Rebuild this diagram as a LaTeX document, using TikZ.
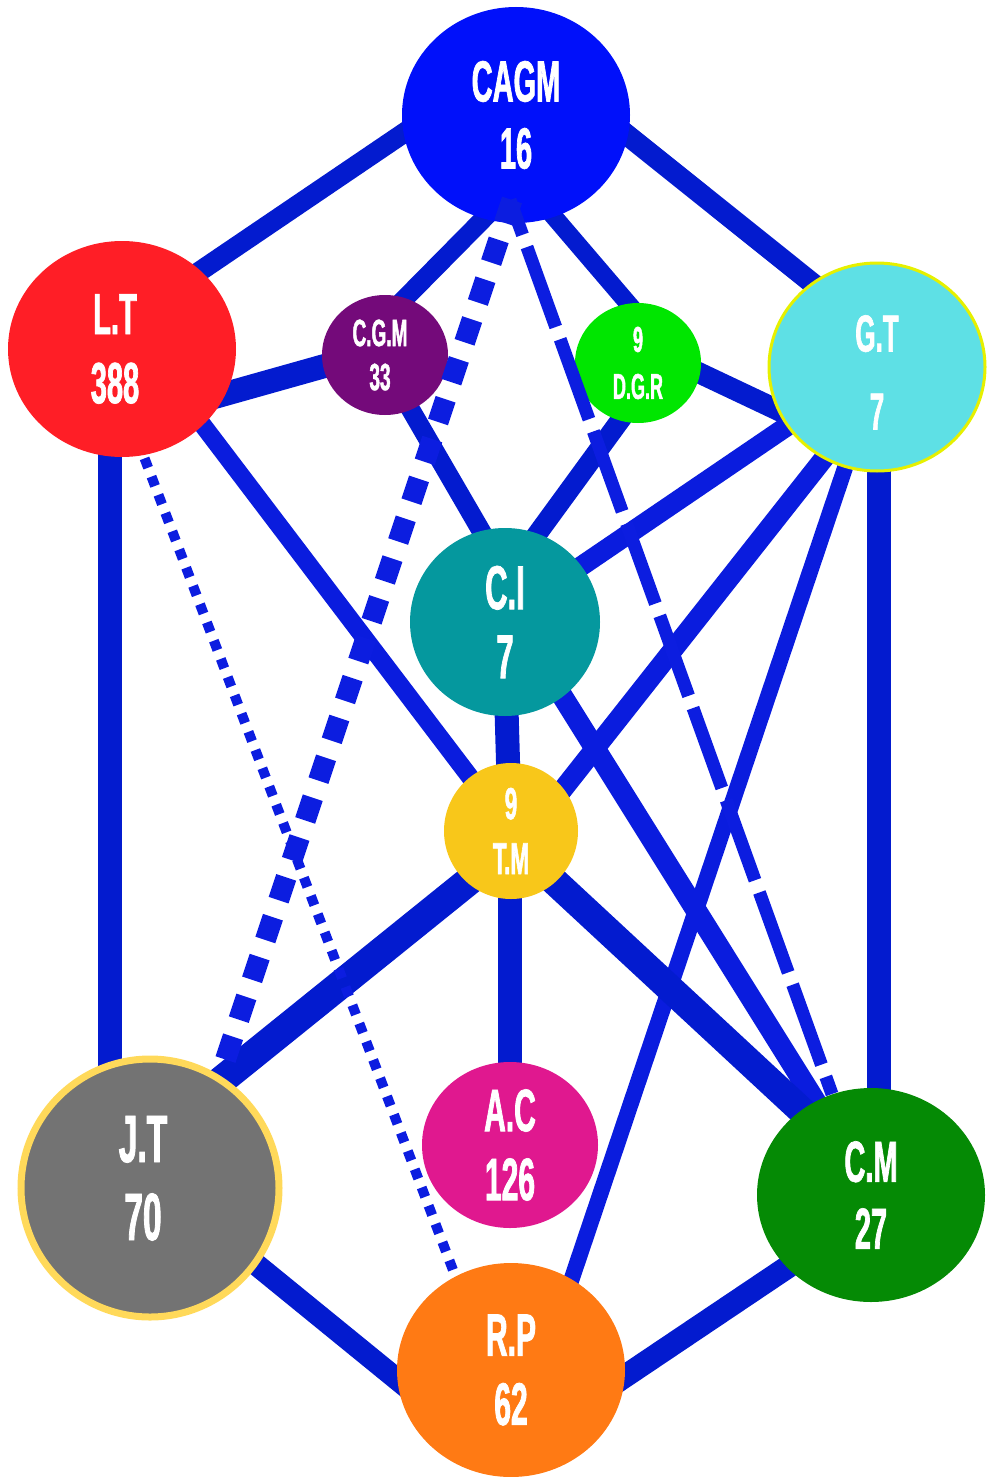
\documentclass[tikz,border=0pt]{standalone}
\usepackage{fontspec}
\newfontfamily\cond[FakeStretch=0.5,FakeBold=1.2]{Liberation Sans}
\usetikzlibrary{shapes.geometric,backgrounds}
\definecolor{edge}{HTML}{031BCF}
\definecolor{edgeb}{HTML}{0A1CDE}
\definecolor{dashc}{HTML}{0C1DE0}
\definecolor{cagm}{HTML}{0010FA}
\definecolor{lt}{HTML}{FF1E26}
\definecolor{cgm}{HTML}{740A7A}
\definecolor{dgr}{HTML}{00E600}
\definecolor{gt}{HTML}{5EE0E5}
\definecolor{gtb}{HTML}{E6F000}
\definecolor{ci}{HTML}{05989E}
\definecolor{tm}{HTML}{F8C71A}
\definecolor{ac}{HTML}{E0188F}
\definecolor{jt}{HTML}{737373}
\definecolor{jtb}{HTML}{FFD95A}
\definecolor{rp}{HTML}{FF7A14}
\definecolor{cm}{HTML}{058A05}
\newcommand\shl[2]{\hbox{#2\kern#1pt}}
\tikzset{
  bub/.style={ellipse, inner sep=0pt, align=center, text=white},
  fs/.style 2 args={font=\cond\bfseries\fontsize{#1}{#2}\selectfont},
  link/.style={draw=edge, line width=#1},
  blink/.style={draw=edgeb, line width=#1},
  thickdash/.style={draw=dashc, line width=21, dash pattern=on 24 off 18},
  longdash/.style={draw=dashc, line width=13, dash pattern=on 85 off 13, dash phase=48},
  smalldot/.style={draw=dashc, line width=10, dash pattern=on 10 off 9.5},
}
\begin{document}
\begin{tikzpicture}[x=1pt,y=-1pt]
\useasboundingbox (0,0) rectangle (987,1477);
\node[bub, fill=cagm, minimum width=228, minimum height=216, fs={58}{67}] (CAGM) at (516,115) {CAGM\\16};
\node[bub, fill=lt, minimum width=228, minimum height=216, fs={58}{69}] (LT) at (122,349) {\shl{14}{L.T}\\\shl{14}{388}};
\node[bub, fill=cgm, minimum width=126, minimum height=120, fs={38}{44}] (CGM) at (385,355) {\shl{10}{C.G.M}\\\shl{10}{33}};
\node[bub, fill=dgr, minimum width=126, minimum height=120, fs={36}{47}] (DGR) at (638,363) {9\\D.G.R};
\node[bub, fill=gt, draw=gtb, line width=3, minimum width=216, minimum height=208, fs={52}{78}] (GT) at (877,367) {\rule{0pt}{47pt}G.T\\7};
\node[bub, fill=ci, minimum width=190, minimum height=188, fs={62}{69}] (CI) at (505,622) {C.I\\7};
\node[bub, fill=tm, minimum width=134, minimum height=136, fs={45}{55}] (TM) at (511,831) {9\\T.M};
\node[bub, fill=ac, minimum width=176, minimum height=166, fs={60}{69}] (AC) at (510,1145) {A.C\\126};
\node[bub, fill=jt, draw=jtb, line width=7, minimum width=258, minimum height=258, fs={67}{78}] (JT) at (150,1188) {\shl{14}{J.T}\\\shl{14}{70}\rule[-20pt]{0pt}{20pt}};
\node[bub, fill=rp, minimum width=228, minimum height=214, fs={60}{69}] (RP) at (511,1370) {R.P\\62};
\node[bub, fill=cm, minimum width=228, minimum height=214, fs={58}{67}] (CM) at (871,1195) {C.M\\27};
\begin{scope}[on background layer]
  \draw[link=20] ([shift={(0,-58)}]CAGM.center) -- ([shift={(0,-25)}]LT.center);
  \draw[link=21] ([shift={(0,-69)}]CAGM.center) -- ([shift={(0,-32)}]GT.center);
  \draw[link=19] ([shift={(70,0)}]CAGM.center) -- ([shift={(-36,0)}]CGM.center);
  \draw[link=18] ([shift={(-49,0)}]CAGM.center) -- ([shift={(41,0)}]DGR.center);
  \draw[link=24] ([shift={(0,74)}]LT.center) -- ([shift={(0,-6)}]CGM.center);
  \draw[link=21] ([shift={(0,-19)}]DGR.center) -- ([shift={(0,90)}]GT.center);
  \draw[link=19] ([shift={(-6,0)}]CGM.center) -- ([shift={(29,0)}]CI.center);
  \draw[link=20] ([shift={(24,0)}]DGR.center) -- ([shift={(-32,0)}]CI.center);
  \draw[blink=20] ([shift={(0,-2)}]GT.center) -- ([shift={(0,-4)}]CI.center);
  \draw[blink=18] ([shift={(23,0)}]LT.center) -- (TM.center);
  \draw[link=24] ([shift={(-12,0)}]LT.center) -- ([shift={(-40,0)}]JT.center);
  \draw[link=24] ([shift={(2,0)}]GT.center) -- ([shift={(8,0)}]CM.center);
  \draw[link=24] ([shift={(-1,0)}]CI.center) -- ([shift={(-1,0)}]TM.center);
  \draw[link=24] ([shift={(-1,0)}]TM.center) -- ([shift={(0,0)}]AC.center);
  \draw[blink=21] ([shift={(11,0)}]CI.center) -- ([shift={(3,0)}]CM.center);
  \draw[blink=20] ([shift={(19,0)}]GT.center) -- ([shift={(19,0)}]TM.center);
  \draw[blink=16] ([shift={(2,0)}]GT.center) -- ([shift={(30,0)}]RP.center);
  \draw[link=29] ([shift={(0,16)}]TM.center) -- ([shift={(0,-50)}]JT.center);
  \draw[link=28] ([shift={(0,10)}]TM.center) -- ([shift={(0,-20)}]CM.center);
  \draw[link=22] ([shift={(0,-10)}]JT.center) -- ([shift={(-91,28)}]RP.center);
  \draw[link=23] ([shift={(89,23)}]RP.center) -- ([shift={(0,16)}]CM.center);
  \draw[smalldot] ([shift={(-19,0)}]LT.center) -- ([shift={(-20,0)}]RP.center);
\end{scope}
\draw[thickdash] ([shift={(-4,85)}]CAGM.center) -- ([shift={(71,-115)}]JT.center);
\draw[longdash] ([shift={(-6,85)}]CAGM.center) -- ([shift={(-39,-101)}]CM.center);
\end{tikzpicture}
\end{document}
